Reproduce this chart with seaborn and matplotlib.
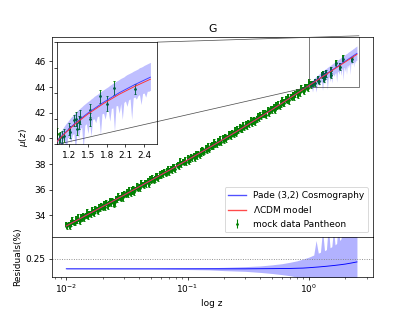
import numpy as np
import matplotlib
matplotlib.use("Agg")
import matplotlib.pyplot as plt
from matplotlib.lines import Line2D
import seaborn as sns
from mpl_toolkits.axes_grid1.inset_locator import mark_inset

# ---------------- data ----------------
z_low = [0.01000,0.01023,0.01047,0.01072,0.01096,0.01122,0.01148,0.01175,0.01202,0.01230,
         0.01259,0.01288,0.01318,0.01349,0.01380,0.01413,0.01445,0.01479,0.01514,0.01549,
         0.01585,0.01622,0.01660,0.01698,0.01738,0.01778,0.01820,0.01862,0.01905,0.01950,
         0.01995,0.02042,0.02089,0.02138,0.02188,0.02239,0.02291,0.02344,0.02399,0.02455,
         0.02512,0.02570,0.02630,0.02692,0.02754,0.02818,0.02884,0.02951,0.03020,0.03090,
         0.03162,0.03236,0.03311,0.03388,0.03467,0.03548,0.03631,0.03715,0.03802,0.03890,
         0.03981,0.04074,0.04169,0.04266,0.04365,0.04467,0.04571,0.04677,0.04786,0.04898,
         0.05012,0.05129,0.05248,0.05370,0.05495,0.05623,0.05754,0.05888,0.06026,0.06166,
         0.06310,0.06457,0.06607,0.06761,0.06918,0.07079,0.07244,0.07413,0.07586,0.07762,
         0.07943,0.08128,0.08318,0.08511,0.08710,0.08913,0.09120,0.09333,0.09550,0.09772,
         0.1000,0.1023,0.1047,0.1072,0.1096,0.1122,0.1148,0.1175,0.1202,0.1230,
         0.1259,0.1288,0.1318,0.1349,0.1380,0.1413,0.1445,0.1479,0.1514,0.1549,
         0.1585,0.1622,0.1660,0.1698,0.1738,0.1778,0.1820,0.1862,0.1905,0.1950,
         0.1995,0.2042,0.2089,0.2138,0.2188,0.2239,0.2291,0.2344,0.2399,0.2455,
         0.2512,0.2570,0.2630,0.2692,0.2754,0.2818,0.2884,0.2951,0.3020,0.3090,
         0.3162,0.3236,0.3311,0.3388,0.3467,0.3548,0.3631,0.3715,0.3802,0.3890,
         0.3981,0.4074,0.4169,0.4266,0.4365,0.4467,0.4571,0.4677,0.4786,0.4898,
         0.5012,0.5129,0.5248,0.5370,0.5495,0.5623,0.5754,0.5888,0.6026,0.6166,
         0.6310,0.6457,0.6607,0.6761,0.6918,0.7079,0.7244,0.7413,0.7586,0.7762,
         0.7943,0.8128,0.8318,0.8511,0.8710,0.8913,0.9120,0.9333,0.9550,0.9772]
mu_low = [33.30,33.15,33.33,33.18,33.40,33.61,33.43,33.42,33.67,33.61,
          33.82,33.56,33.85,33.79,33.99,33.84,33.99,34.19,33.95,34.17,
          34.12,34.37,34.28,34.18,34.47,34.47,34.37,34.69,34.53,34.74,
          34.66,34.80,34.65,35.01,34.80,34.95,35.12,35.00,35.19,34.97,
          35.02,35.34,35.25,35.47,35.40,35.36,35.68,35.42,35.67,35.63,
          35.81,35.70,35.96,35.74,35.95,36.05,35.86,36.06,36.25,36.10,
          36.27,36.15,36.49,36.39,36.34,36.59,36.50,36.66,36.47,36.83,
          36.72,36.88,36.74,36.85,37.13,37.02,36.91,37.16,37.08,37.33,
          37.22,37.43,37.28,37.43,37.63,37.40,37.62,37.56,37.82,37.73,
          37.63,37.93,37.93,37.83,38.16,38.00,38.21,38.14,38.28,38.13,
          38.49,38.27,38.42,38.60,38.48,38.68,38.46,38.82,38.67,38.86,
          38.71,38.94,39.15,38.98,38.97,39.23,39.17,39.39,39.13,39.43,
          39.46,39.34,39.69,39.59,39.55,39.80,39.71,39.88,39.69,40.06,
          39.96,40.12,39.98,40.10,40.38,40.28,40.17,40.42,40.35,40.61,
          40.36,40.69,40.61,40.84,40.77,40.73,41.06,40.81,41.07,41.03,
          41.22,41.12,41.39,41.17,41.38,41.49,41.31,41.52,41.72,41.58,
          41.85,41.70,41.92,41.85,42.00,41.86,42.23,42.02,42.18,42.36,
          42.24,42.44,42.23,42.59,42.45,42.64,42.51,42.74,42.96,42.79,
          42.77,43.04,42.99,43.21,42.96,43.27,43.22,43.43,43.30,43.46,
          43.65,43.42,43.66,43.61,43.87,43.80,43.71,44.02,44.04,43.95]
err_low = [0.20,0.24,0.18,0.26,0.22,0.28,0.21,0.19,0.25,0.23,0.27,0.20,0.24,0.22,0.18,0.26,0.21,0.29,0.23,0.19,
           0.23,0.27,0.21,0.19,0.28,0.22,0.25,0.20,0.18,0.26,0.24,0.29,0.21,0.23,0.27,0.19,0.22,0.25,0.20,0.28,
           0.26,0.19,0.23,0.28,0.21,0.24,0.18,0.27,0.22,0.20,0.25,0.23,0.29,0.19,0.24,0.21,0.26,0.18,0.28,0.22,
           0.21,0.25,0.28,0.20,0.24,0.18,0.27,0.23,0.29,0.21,0.19,0.26,0.22,0.25,0.20,0.28,0.23,0.27,0.19,0.24,
           0.25,0.22,0.19,0.27,0.20,0.26,0.23,0.28,0.21,0.24,0.22,0.18,0.27,0.20,0.29,0.23,0.19,0.24,0.26,0.21,
           0.22,0.28,0.24,0.21,0.26,0.19,0.25,0.22,0.27,0.18,0.23,0.28,0.20,0.26,0.21,0.24,0.29,0.22,0.18,0.25,
           0.27,0.20,0.26,0.23,0.18,0.25,0.21,0.29,0.19,0.24,0.28,0.22,0.25,0.18,0.23,0.27,0.20,0.26,0.22,0.29,
           0.19,0.26,0.22,0.25,0.29,0.21,0.24,0.18,0.26,0.28,0.20,0.23,0.27,0.21,0.25,0.19,0.28,0.22,0.24,0.20,
           0.24,0.21,0.27,0.18,0.23,0.29,0.20,0.26,0.22,0.19,0.25,0.27,0.23,0.28,0.19,0.24,0.21,0.26,0.29,0.23,
           0.28,0.23,0.20,0.24,0.27,0.22,0.26,0.21,0.28,0.25,0.18,0.24,0.22,0.27,0.26,0.20,0.25,0.23,0.21,0.27]

z_high = [1.01,1.04,1.06,1.08,1.12,1.20,1.21,1.28,1.31,1.33,1.36,1.38,1.53,1.54,1.69,1.80,1.91,2.26]
mu_high = [44.42,44.20,44.30,44.29,44.35,44.61,44.48,44.94,45.00,44.61,44.87,45.07,45.33,44.98,45.89,45.60,46.22,46.18]
err_high = [0.21,0.24,0.20,0.22,0.25,0.23,0.24,0.22,0.26,0.23,0.25,0.27,0.24,0.26,0.25,0.28,0.27,0.20]

# model curves
z_model = [0.01,0.015,0.02,0.03,0.04,0.05,0.07,0.1,0.15,0.2,0.25,0.3,0.4,0.5,0.6,0.7,0.8,0.9,
           1.0,1.1,1.2,1.3,1.4,1.5,1.75,2.0,2.25,2.5]
mu_lcdm = [33.18,34.07,34.70,35.59,36.24,36.74,37.50,38.32,39.27,39.96,40.50,40.96,41.68,42.26,42.74,43.15,43.50,43.82,
           44.10,44.36,44.59,44.81,45.00,45.19,45.60,45.96,46.27,46.55]
mu_pade = [33.18,34.07,34.70,35.59,36.24,36.74,37.50,38.32,39.27,39.96,40.50,40.96,41.68,42.26,42.74,43.16,43.51,43.83,
           44.12,44.38,44.62,44.84,45.04,45.23,45.65,46.02,46.34,46.63]

# Pade confidence band
z_band = [1.000,1.025,1.050,1.075,1.100,1.125,1.150,1.175,1.200,1.225,1.250,1.275,1.300,1.325,1.350,1.375,
          1.400,1.425,1.450,1.475,1.500,1.525,1.550,1.575,1.600,1.625,1.650,1.675,1.700,1.725,1.750,1.775,
          1.800,1.825,1.850,1.875,1.900,1.925,1.950,1.975,2.000,2.025,2.050,2.075,2.100,2.125,2.150,2.175,
          2.200,2.225,2.250,2.275,2.300,2.325,2.350,2.375,2.400,2.425,2.450,2.475,2.500]
band_hi = [44.17,44.31,44.43,44.54,44.64,44.73,44.82,44.89,44.97,45.05,45.11,45.19,45.25,45.31,45.36,45.42,
           45.47,45.53,45.58,45.63,45.68,45.72,45.78,45.82,45.88,45.92,45.96,46.01,46.05,46.10,46.14,46.18,
           46.22,46.26,46.31,46.35,46.39,46.42,46.47,46.50,46.54,46.58,46.61,46.64,46.69,46.73,46.76,46.79,
           46.82,46.86,46.89,46.92,46.95,47.00,47.02,47.05,47.09,47.12,47.15,47.18,47.21]
band_lo = [44.07,44.09,44.10,43.62,44.16,44.19,43.61,44.26,44.29,44.08,44.38,44.43,43.74,44.52,44.24,44.61,
           44.68,43.79,44.75,44.81,44.43,44.87,44.32,44.98,45.00,44.85,45.09,45.11,44.37,45.20,45.22,44.99,
           45.30,45.32,44.91,45.41,45.43,44.51,45.51,45.52,45.22,45.60,44.98,45.64,45.70,45.49,45.74,45.78,
           44.98,45.82,45.86,45.77,45.90,45.95,45.56,45.99,46.01,45.85,46.08,46.08,46.12]

# residuals (%)
z_res = [0.01,0.03,0.1,0.3,0.5,0.7,0.9,1.0,1.2,1.4,1.6,1.8,2.0,2.25,2.5]
res = [0.222,0.222,0.222,0.222,0.2225,0.223,0.224,0.225,0.227,0.229,0.231,0.233,0.235,0.238,0.241]
z_rb = [0.01,0.05,0.1,0.15,0.2,0.3,0.4,0.5,0.6,0.7,0.8,0.9,1.0,1.05,1.1,1.15,1.2,1.25,1.3,1.35,1.4,1.45,
        1.5,1.55,1.6,1.65,1.7,1.75,1.8,1.85,1.9,1.95,2.0,2.05,2.1,2.15,2.2,2.25,2.3,2.35,2.4,2.45,2.5]
rb_hi = [0.2225,0.223,0.224,0.225,0.226,0.228,0.230,0.233,0.236,0.240,0.244,0.249,0.254,0.257,0.260,0.300,
         0.265,0.268,0.330,0.272,0.275,0.340,0.280,0.283,0.330,0.288,0.292,0.350,0.300,0.305,0.360,0.315,
         0.340,0.350,0.360,0.370,0.380,0.390,0.400,0.410,0.420,0.430,0.440]
rb_lo = [0.2215,0.221,0.220,0.219,0.217,0.215,0.212,0.209,0.206,0.203,0.199,0.196,0.193,0.199,0.192,0.188,
         0.185,0.182,0.180,0.178,0.176,0.174,0.172,0.170,0.168,0.166,0.164,0.162,0.160,0.158,0.156,0.154,
         0.152,0.150,0.148,0.146,0.144,0.142,0.140,0.138,0.136,0.134,0.132]

# ---------------- figure ----------------
plt.rcParams['font.family'] = ['DejaVu Sans']
fig = plt.figure(figsize=(6.4, 311/64.6875), dpi=64.6875)
gs = fig.add_gridspec(2, 1, height_ratios=[5, 1], hspace=0,
                      left=0.125, right=0.9, bottom=0.11, top=0.88)
ax = fig.add_subplot(gs[0])
axr = fig.add_subplot(gs[1], sharex=ax)

z_all = z_low + z_high
mu_all = mu_low + mu_high
err_all = err_low + err_high

PADE_C = '#3c3cff'
LCDM_C = '#ff3030'

def draw_main(a, ms, cap, elw):
    a.errorbar(z_all, mu_all, yerr=err_all, fmt='o', ms=ms, color='green', mec='green',
               ecolor='green', elinewidth=elw, capsize=cap, zorder=1)
    a.fill_between(z_band, band_lo, band_hi, color='blue', alpha=0.25, lw=0, zorder=2)
    sns.lineplot(x=z_model, y=mu_pade, ax=a, color=PADE_C, lw=1.0,
                 sort=False, estimator=None, zorder=3)
    sns.lineplot(x=z_model, y=mu_lcdm, ax=a, color=LCDM_C, lw=1.0,
                 sort=False, estimator=None, zorder=4)

draw_main(ax, 2.0, 1.3, 2.1)
ax.set_xscale('log')
ax.set_ylim(32.33, 47.88)
ax.set_yticks([34, 36, 38, 40, 42, 44, 46])
ax.set_ylabel(r'$\mu(z)$')
ax.set_title('G')
ax.tick_params(labelbottom=False)

h_pade = Line2D([], [], color='#5050ff', lw=1.5)
h_lcdm = Line2D([], [], color='#ff4a4a', lw=1.5)
h_data = ax.errorbar([], [], yerr=[], fmt='o', ms=2.0, color='green', ecolor='green',
                     elinewidth=1.2, capsize=1.2)
ax.legend([h_pade, h_lcdm, h_data],
          ['Pade (3,2) Cosmography', r'$\Lambda$CDM model', 'mock data Pantheon'],
          loc='lower right')

# inset
axins = ax.inset_axes([0.0154, 0.463, 0.3135, 0.513])
draw_main(axins, 2.0, 1.5, 1.0)
axins.set_xlim(1.0, 2.61)
axins.set_ylim(44.0, 48.0)
axins.set_xticks([1.2, 1.5, 1.8, 2.1, 2.4])
axins.tick_params(labelleft=False)
mark_inset(ax, axins, loc1=1, loc2=3, fc='none', ec='0.3', lw=0.8)

# residuals
axr.fill_between(z_rb, rb_lo, rb_hi, color='blue', alpha=0.3, lw=0)
sns.lineplot(x=z_res, y=res, ax=axr, color='blue', lw=1.0, sort=False, estimator=None)
axr.axhline(0.25, color='0.5', ls=':', lw=1.0)
axr.set_ylim(0.2, 0.31)
axr.set_yticks([0.25])
axr.set_xlim(10**-2.12, 10**0.527)
axr.set_xlabel('log z')
axr.set_ylabel('Residuals(%)')

fig.savefig('out.png', dpi=64.6875)
